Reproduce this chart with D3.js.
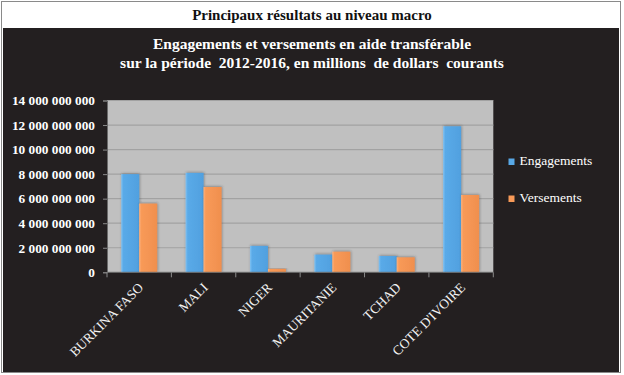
<!DOCTYPE html>
<html>
<head>
<meta charset="utf-8">
<script src="https://cdn.jsdelivr.net/npm/d3@7"></script>
<style>
	body { margin: 0; background: #fff; }
	svg { display: block; }
	text { font-family: "Liberation Serif", "Times New Roman", serif; }
</style>
</head>
<body>
<svg id="chart" width="624" height="375"></svg>
<script>
// data
const pays = ['BURKINA FASO', 'MALI', 'NIGER', 'MAURITANIE', 'TCHAD', "COTE D'IVOIRE"];
const engagements = [8.0e9, 8.1e9, 2.15e9, 1.44e9, 1.33e9, 11.9e9];
const versements = [5.6e9, 6.95e9, 0.28e9, 1.68e9, 1.22e9, 6.3e9];
const series = ['Engagements', 'Versements'];
const yTicks = [0, 2e9, 4e9, 6e9, 8e9, 10e9, 12e9, 14e9];

const colors = { Engagements: '#58a8e6', Versements: '#f89a58' };

const svg = d3.select('#chart');
const defs = svg.append('defs');

// frame
svg.append('rect')
	.attr('x', 1.5).attr('y', 1.5)
	.attr('width', 619).attr('height', 371)
	.attr('fill', '#fff')
	.attr('stroke', '#8a8a8a');

svg.append('rect')
	.attr('x', 3).attr('y', 28)
	.attr('width', 616).attr('height', 344)
	.attr('fill', '#231f20');

svg.append('text')
	.attr('x', 312).attr('y', 19.5)
	.attr('text-anchor', 'middle')
	.attr('font-size', 15)
	.attr('font-weight', 'bold')
	.attr('fill', '#111')
	.text('Principaux résultats au niveau macro');

const titleLines = [
	'Engagements et versements en aide transférable',
	'sur la période  2012-2016, en millions  de dollars  courants'
];
svg.append('g').selectAll('text')
	.data(titleLines)
	.enter()
	.append('text')
	.attr('x', 312)
	.attr('y', (d, i) => 49 + i * 18.5)
	.attr('text-anchor', 'middle')
	.attr('font-size', 15.5)
	.attr('font-weight', 'bold')
	.attr('fill', '#fff')
	.style('white-space', 'pre')
	.text(d => d);

// scales
const plot = { left: 107, right: 493.3, top: 100.5, bottom: 272.3 };

const x0 = d3.scaleBand()
	.domain(pays)
	.range([plot.left, plot.right])
	.padding(0);

const x1 = d3.scaleBand()
	.domain(series)
	.range([0, x0.bandwidth()])
	.paddingInner(0)
	.paddingOuter(0.79);

const y = d3.scaleLinear()
	.domain([0, 14e9])
	.range([plot.bottom, plot.top]);

// gradients for bars
function createGradient(name, light, mid, dark) {
	const g = defs.append('linearGradient')
		.attr('id', `grad-${name}`)
		.attr('x1', '0%').attr('x2', '100%')
		.attr('y1', '0%').attr('y2', '0%');
	g.append('stop').attr('offset', '0%').attr('stop-color', light);
	g.append('stop').attr('offset', '12%').attr('stop-color', mid);
	g.append('stop').attr('offset', '100%').attr('stop-color', dark);
}
createGradient('Engagements', '#80c2f2', '#5aaae8', '#50a0df');
createGradient('Versements', '#fcb27e', '#f89a58', '#f08f4e');

const shadow = defs.append('filter').attr('id', 'shadow')
	.attr('x', '-20%').attr('y', '-20%').attr('width', '140%').attr('height', '140%');
shadow.append('feDropShadow')
	.attr('dx', 0.6).attr('dy', -0.6)
	.attr('stdDeviation', 0.8)
	.attr('flood-color', '#333')
	.attr('flood-opacity', 0.45);

// plot area
svg.append('rect')
	.attr('x', plot.left).attr('y', plot.top)
	.attr('width', plot.right - plot.left)
	.attr('height', plot.bottom - plot.top)
	.attr('fill', '#c0c0c0');

svg.append('g').selectAll('line')
	.data(yTicks.slice(1))
	.enter()
	.append('line')
	.attr('x1', plot.left).attr('x2', plot.right)
	.attr('y1', d => y(d)).attr('y2', d => y(d))
	.attr('stroke', '#a2a2a2')
	.attr('stroke-width', 1.2);

// y axis
const yAxis = svg.append('g')
	.attr('transform', `translate(${plot.left},0)`)
	.call(d3.axisLeft(y)
		.tickValues(yTicks)
		.tickSize(4)
		.tickPadding(8)
		.tickFormat(d => d3.format(',')(d).replace(/,/g, ' ')));

yAxis.select('.domain').attr('stroke', '#6a6a6a');
yAxis.selectAll('.tick line').attr('stroke', '#8a8a8a');
yAxis.selectAll('.tick text')
	.attr('fill', '#fff')
	.attr('font-size', 13.3)
	.attr('font-weight', 'bold')
	.attr('font-family', '"Liberation Serif", serif');

// bars
const rows = pays.map((p, i) => ({ pays: p, Engagements: engagements[i], Versements: versements[i] }));

const groups = svg.append('g').selectAll('g')
	.data(rows)
	.enter()
	.append('g')
	.attr('transform', d => `translate(${x0(d.pays)},0)`);

groups.selectAll('rect')
	.data(d => series.map(s => ({ key: s, value: d[s] })))
	.enter()
	.append('rect')
	.attr('x', d => x1(d.key))
	.attr('width', x1.bandwidth())
	.attr('y', d => y(d.value))
	.attr('height', d => y(0) - y(d.value))
	.attr('fill', d => `url(#grad-${d.key})`)
	.attr('filter', 'url(#shadow)');

// x axis with ticks between categories
const xAxis = svg.append('g');
xAxis.append('line')
	.attr('x1', plot.left).attr('x2', plot.right)
	.attr('y1', plot.bottom).attr('y2', plot.bottom)
	.attr('stroke', '#6a6a6a');

xAxis.selectAll('.sep')
	.data(pays.concat(['end']))
	.enter()
	.append('line')
	.attr('class', 'sep')
	.attr('x1', d => d === 'end' ? plot.right : x0(d))
	.attr('x2', d => d === 'end' ? plot.right : x0(d))
	.attr('y1', plot.bottom).attr('y2', plot.bottom + 5)
	.attr('stroke', '#8a8a8a');

xAxis.selectAll('.lbl')
	.data(pays)
	.enter()
	.append('text')
	.attr('class', 'lbl')
	.attr('transform', d => `translate(${x0(d) + x0.bandwidth() / 2 + 5},${plot.bottom + 16}) rotate(-45)`)
	.attr('text-anchor', 'end')
	.attr('font-size', 13.5)
	.attr('fill', '#f2f2f2')
	.text(d => d);

// legend
const legend = svg.append('g').selectAll('g')
	.data(series)
	.enter()
	.append('g')
	.attr('transform', (d, i) => `translate(508.5,${158.5 + i * 37})`);

legend.append('rect')
	.attr('width', 6).attr('height', 6.5)
	.attr('fill', d => colors[d]);

legend.append('text')
	.attr('x', 11).attr('y', 6.5)
	.attr('font-size', 13.5)
	.attr('fill', '#fff')
	.text(d => d);
</script>
</body>
</html>
